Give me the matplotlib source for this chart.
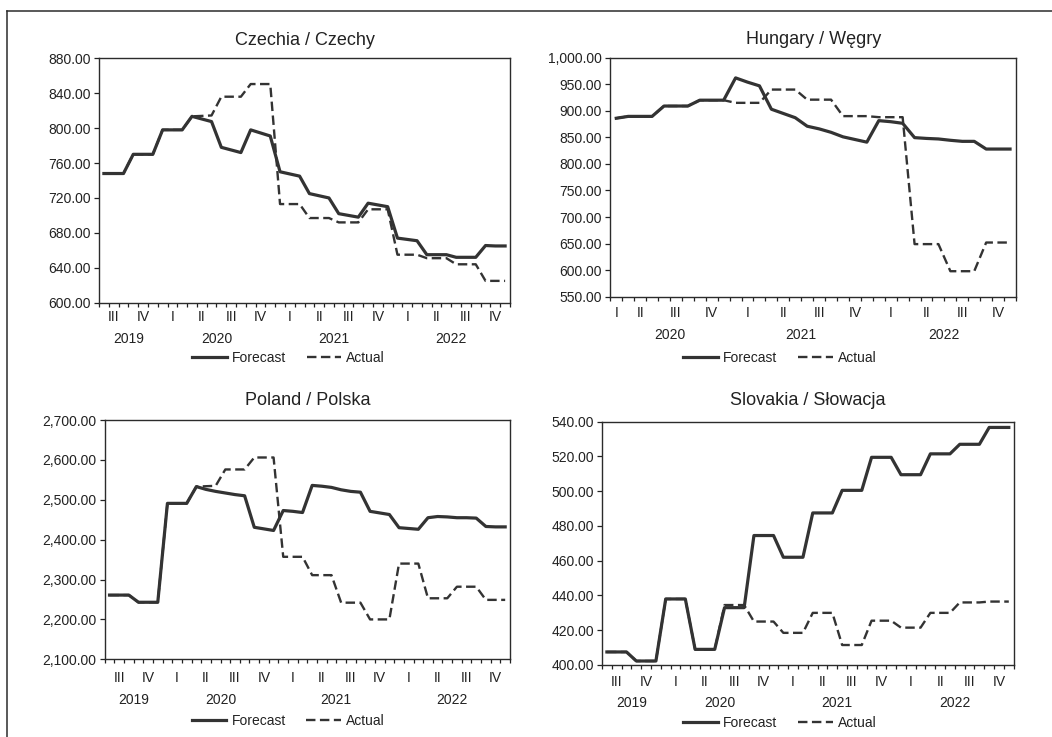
# Forecast vs actual, monthly series for four countries (EViews style panels)

import matplotlib
matplotlib.use('Agg')
import matplotlib.pyplot as plt
from matplotlib.lines import Line2D
from matplotlib.ticker import FuncFormatter
from matplotlib.transforms import ScaledTranslation

plt.rcParams['font.family'] = ['Liberation Sans', 'DejaVu Sans']

# Czechia, Jul 2019 - Dec 2022
czechy_forecast = [748, 748, 748, 770, 770, 770, 798, 798, 798,
                   813.5, 810.5, 807.5, 778, 775, 772, 798, 794.5, 791,
                   750, 747.5, 745, 725, 722.5, 720, 702, 700, 698,
                   714, 712, 710, 674, 672.5, 671, 655, 655, 655,
                   652, 652, 652, 665.5, 665, 665]
czechy_actual = [748, 748, 748, 770, 770, 770, 798, 798, 798,
                 813.5, 814, 814.5, 836, 836, 836, 850.5, 850.5, 850.5,
                 713, 713, 713, 697, 697, 697, 692, 692, 692,
                 707, 707, 707, 655, 655, 655, 651, 651, 651,
                 644, 644, 644, 625, 625, 625]

# Hungary, Mar 2020 - Dec 2022
wegry_forecast = [886, 889.5, 889.5, 889.5, 909, 909, 909, 920, 920, 920,
                  962, 954, 947, 903, 895, 887, 871, 866, 859.5,
                  851, 846, 841, 881.5, 879.5, 876.5, 849.5, 848, 847,
                  844.5, 842.5, 842.5, 828, 828, 828]
wegry_actual = [886, 889.5, 889.5, 889.5, 909, 909, 909, 920, 920, 920,
                915, 915, 915, 940, 940, 940, 921, 921, 921,
                890, 890, 890, 888, 888, 888, 649, 649, 649,
                598, 598, 598, 652, 652, 652]

# Poland, Jul 2019 - Dec 2022
polska_forecast = [2261, 2261, 2261, 2243, 2243, 2243, 2491, 2491, 2491,
                   2533, 2526, 2521, 2517, 2513, 2510, 2431, 2427, 2423,
                   2473, 2471, 2468, 2536, 2534, 2531, 2525, 2521, 2519,
                   2471, 2467, 2463, 2430, 2428, 2426, 2455, 2458, 2457,
                   2455, 2455, 2454, 2433, 2432, 2432]
polska_actual = [2261, 2261, 2261, 2243, 2243, 2243, 2491, 2491, 2491,
                 2533, 2534, 2535, 2576, 2576, 2576, 2606, 2606, 2606,
                 2357, 2357, 2357, 2311, 2311, 2311, 2242, 2242, 2242,
                 2200, 2200, 2200, 2340, 2340, 2340, 2253, 2253, 2253,
                 2282, 2282, 2282, 2249, 2249, 2249]

# Slovakia, Jul 2019 - Dec 2022
slowacja_forecast = [407.5, 407.5, 407.5, 402.3, 402.3, 402.3, 438, 438, 438,
                     409, 409, 409, 433, 433, 433, 474.5, 474.5, 474.5,
                     462, 462, 462, 487.5, 487.5, 487.5, 500.5, 500.5, 500.5,
                     519.5, 519.5, 519.5, 509.5, 509.5, 509.5, 521.5, 521.5, 521.5,
                     527, 527, 527, 536.7, 536.7, 536.7]
slowacja_actual = [407.5, 407.5, 407.5, 402.3, 402.3, 402.3, 438, 438, 438,
                   409, 409, 409, 434.5, 434.5, 434.5, 425, 425, 425,
                   418.5, 418.5, 418.5, 430, 430, 430, 411.5, 411.5, 411.5,
                   425.5, 425.5, 425.5, 421.5, 421.5, 421.5, 430, 430, 430,
                   436, 436, 436, 436.5, 436.5, 436.5]

# Axis labels
quarters_2019 = ['III', 'IV', 'I', 'II', 'III', 'IV', 'I', 'II', 'III', 'IV', 'I', 'II', 'III', 'IV']
years_2019 = ['2019', '2020', '2021', '2022']
quarters_2020 = ['I', 'II', 'III', 'IV', 'I', 'II', 'III', 'IV', 'I', 'II', 'III', 'IV']
years_2020 = ['2020', '2021', '2022']

W, H, DPI = 1052, 737, 100
COR = '#333333'
TXT = '#222222'
TRACO = (4.0, 1.9)  # dash pattern of the Actual line
FONTE = 10


def desloca(fig, dy_px):
    """Shift in pixels (positive = up)"""
    return ScaledTranslation(0, dy_px / DPI, fig.dpi_scale_trans)


def painel(fig, caixa, titulo, forecast, actual, mes_inicial, quarters, years,
           ylim, passo, legenda_x, offs):
    left, top, right, bottom = caixa
    ax = fig.add_axes([left / W, 1 - bottom / H, (right - left) / W, (bottom - top) / H])

    n = len(forecast)
    x = [i + 0.5 for i in range(n)]
    ax.plot(x, actual, color=COR, lw=1.7, dashes=TRACO, zorder=2)
    ax.plot(x, forecast, color=COR, lw=2.3, zorder=3)

    ax.set_xlim(0, n)
    ax.set_ylim(*ylim)
    ticks = []
    v = ylim[0]
    while v <= ylim[1] + 1e-9:
        ticks.append(v)
        v += passo
    ax.set_yticks(ticks)
    ax.yaxis.set_major_formatter(FuncFormatter(lambda v, p: f'{v:,.2f}'))
    ax.set_xticks(range(n + 1))
    ax.set_xticklabels([])
    ax.tick_params(axis='y', direction='out', length=3.4, width=0.9, pad=2.4,
                   labelsize=FONTE, colors=TXT)
    ax.tick_params(axis='x', direction='out', length=3.0, width=0.9, colors=TXT)
    for s in ax.spines.values():
        s.set_linewidth(1.0)
        s.set_color('#2b2b2b')

    # quarter and year boundaries (in months)
    lim_q = [0] + [i for i in range(1, n) if (mes_inicial - 1 + i) % 3 == 0] + [n]
    lim_a = [0] + [i for i in range(1, n) if (mes_inicial - 1 + i) % 12 == 0] + [n]

    t_q = ax.get_xaxis_transform() + desloca(fig, -offs[1])
    for k, lab in enumerate(quarters):
        ax.text((lim_q[k] + lim_q[k + 1]) / 2, 0, lab, transform=t_q,
                ha='center', va='baseline', fontsize=FONTE, color=TXT)
    t_a = ax.get_xaxis_transform() + desloca(fig, -offs[2])
    for k, lab in enumerate(years):
        ax.text((lim_a[k] + lim_a[k + 1]) / 2, 0, lab, transform=t_a,
                ha='center', va='baseline', fontsize=FONTE, color=TXT)

    ax.text(0.5, 1, titulo, transform=ax.transAxes + desloca(fig, offs[0]),
            ha='center', va='baseline', fontsize=13, color=TXT)

    handles = [Line2D([], [], color=COR, lw=2.3),
               Line2D([], [], color=COR, lw=1.7, dashes=TRACO)]
    alt = bottom - top
    leg = ax.legend(handles, ['Forecast', 'Actual'], loc='center',
                    bbox_to_anchor=((legenda_x - left) / (right - left), -offs[3] / alt),
                    ncol=2, frameon=False, fontsize=FONTE, handlelength=2.5,
                    handletextpad=0.36, columnspacing=1.5, borderpad=0, borderaxespad=0)
    for t in leg.get_texts():
        t.set_color(TXT)
    return ax


fig = plt.figure(figsize=(W / DPI, H / DPI), dpi=DPI)

# outer frame (only left and top edges are visible)
fig.add_artist(Line2D([7 / W, 7 / W], [0, 1 - 10.7 / H], transform=fig.transFigure,
                      color='#2b2b2b', lw=1.1))
fig.add_artist(Line2D([7 / W, 1], [1 - 10.7 / H, 1 - 10.7 / H], transform=fig.transFigure,
                      color='#2b2b2b', lw=1.1))

painel(fig, (99, 58.3, 510, 302.7), 'Czechia / Czechy', czechy_forecast, czechy_actual,
       7, quarters_2019, years_2019, (600, 880), 40, 288.5, (13.3, 18, 40.6, 55.6))
painel(fig, (610.3, 57.7, 1016, 296.7), 'Hungary / Węgry', wegry_forecast, wegry_actual,
       3, quarters_2020, years_2020, (550, 1000), 50, 779.8, (13.4, 20, 42.6, 61.6))
painel(fig, (104.7, 420, 510, 659.3), 'Poland / Polska', polska_forecast, polska_actual,
       7, quarters_2019, years_2019, (2100, 2700), 100, 288.3, (15, 23, 45, 61.7))
painel(fig, (602, 421.7, 1013.7, 665), 'Slovakia / Słowacja', slowacja_forecast, slowacja_actual,
       7, quarters_2019, years_2019, (400, 540), 20, 780, (16.7, 21, 41.7, 57.7))

fig.savefig('out.png', dpi=DPI)
print('Gráfico salvo: out.png')
